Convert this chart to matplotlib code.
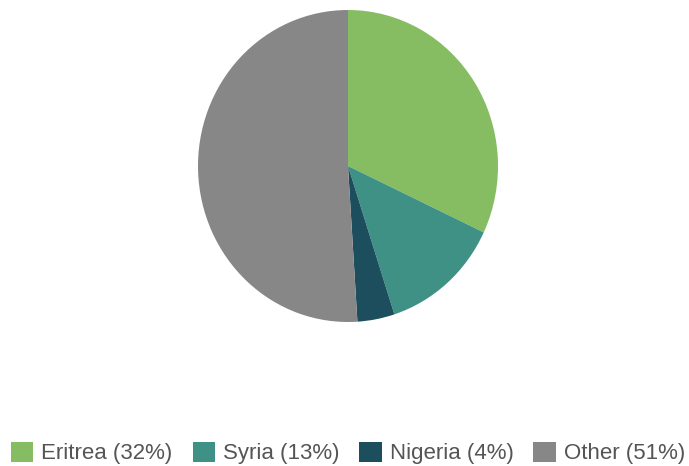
import matplotlib
matplotlib.use("Agg")
import matplotlib.pyplot as plt
from matplotlib.patches import Patch

countries = ["Eritrea", "Syria", "Nigeria", "Other"]
shares = [32, 13, 4, 51]
colors = ["#86bc62", "#3f9185", "#1c4e5e", "#878787"]

W, H = 689, 466
fig = plt.figure(figsize=(W / 100, H / 100), dpi=100)
plt.rcParams["font.family"] = ["Liberation Sans", "DejaVu Sans"]

# pie in the reference is a touch taller than wide (centre ~ (348, 166) px)
cx, cy, rx, ry = 348, 166, 150, 156
ax = fig.add_axes([(cx - rx) / W, (H - cy - ry) / H, 2 * rx / W, 2 * ry / H])
ax.pie(shares, colors=colors, startangle=90, counterclock=False, radius=1.0,
       wedgeprops={"linewidth": 0})
ax.set_aspect("auto")
ax.set_xlim(-1.0, 1.0)
ax.set_ylim(-1.0, 1.0)
ax.axis("off")

handles = [Patch(facecolor=c, edgecolor="none") for c in colors]
labels = [f"{n} ({s}%)" for n, s in zip(countries, shares)]
fig.legend(handles, labels, loc="center", bbox_to_anchor=(348 / W, 1 - 453 / H), ncol=4,
           frameon=False, fontsize=16, handlelength=1.0, handleheight=1.0,
           handletextpad=0.36, columnspacing=0.9, labelcolor="#555555",
           borderpad=0, borderaxespad=0)

fig.savefig("out.png", dpi=100)
